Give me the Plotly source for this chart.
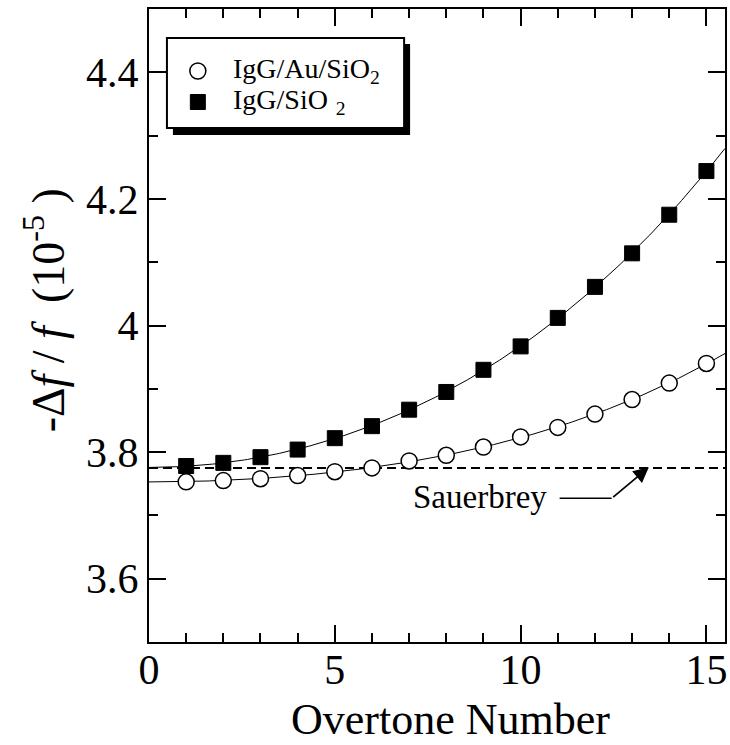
import numpy as np
import plotly.graph_objects as go

overtone = list(range(1, 16))
igg_au_sio2 = [3.753, 3.755, 3.758, 3.763, 3.769, 3.775, 3.786, 3.795, 3.808, 3.824,
               3.839, 3.860, 3.883, 3.909, 3.940]
igg_sio2 = [3.778, 3.783, 3.792, 3.804, 3.822, 3.841, 3.867, 3.895, 3.930, 3.967,
            4.012, 4.061, 4.114, 4.175, 4.244]
sauerbrey = 3.775
series_names = ["IgG/Au/SiO<sub>2</sub>", "IgG/SiO<sub>\u2009\u20092</sub>"]
x_title = "Overtone Number"
y_title = "-Δ<i>f</i>\u00a0/\u00a0<i>f</i>\u00a0\u00a0(10<sup>-5</sup>\u00a0)"
x_range = [0, 15.5]
y_range = [3.5, 4.5]
x_ticks = [0, 5, 10, 15]
y_ticks = [3.6, 3.8, 4.0, 4.2, 4.4]
y_tick_text = ["3.6", "3.8", "4", "4.2", "4.4"]

FONT = "Liberation Serif"
L, R, T, B = 149, 3, 9, 103
W, H = 730, 745
PW, PH = W - L - R, H - T - B


def px(xp):
    return (xp - L) / PW


def py(yp):
    return 1 - (yp - T) / PH


fig = go.Figure()

# smooth fit curves computed from the data
xf = np.linspace(x_range[0], x_range[1], 200)
for ys in (igg_au_sio2, igg_sio2):
    n = np.array(overtone, dtype=float)
    A = np.vstack([np.ones_like(n), n**2, n**4]).T
    coef, *_ = np.linalg.lstsq(A, np.array(ys), rcond=None)
    yf = coef[0] + coef[1] * xf**2 + coef[2] * xf**4
    fig.add_trace(go.Scatter(x=xf, y=yf, mode="lines", line=dict(color="black", width=1),
                             showlegend=False, hoverinfo="skip"))

# Sauerbrey dashed line
fig.add_trace(go.Scatter(x=x_range, y=[sauerbrey, sauerbrey], mode="lines",
                         line=dict(color="black", width=2, dash="9px,5px"),
                         showlegend=False, hoverinfo="skip"))

fig.add_trace(go.Scatter(x=overtone, y=igg_au_sio2, mode="markers", name=series_names[0],
                         showlegend=False,
                         marker=dict(symbol="circle", size=16, color="white",
                                     line=dict(color="black", width=1.5))))
fig.add_trace(go.Scatter(x=overtone, y=igg_sio2, mode="markers", name=series_names[1],
                         showlegend=False,
                         marker=dict(symbol="square", size=15, color="black",
                                     line=dict(color="black", width=1))))

# Sauerbrey label with kinked arrow
fig.add_annotation(x=7.05, y=3.729, xref="x", yref="y", text="Sauerbrey", showarrow=False,
                   xanchor="left", yanchor="middle", font=dict(family=FONT, size=33, color="black"))
fig.add_shape(type="line", x0=11.05, x1=12.45, y0=3.727, y1=3.727, xref="x", yref="y",
              line=dict(color="black", width=1.5))
fig.add_annotation(x=13.45, y=3.776, ax=12.45, ay=3.727, xref="x", yref="y", axref="x", ayref="y",
                   text="", showarrow=True, arrowhead=2, arrowsize=1.8, arrowwidth=1.7,
                   arrowcolor="black")

# legend box (drawn by hand for exact placement), with drop shadow
fig.add_shape(type="rect", xref="paper", yref="paper", x0=px(173), x1=px(411), y0=py(135), y1=py(44),
              fillcolor="black", line=dict(width=0))
fig.add_shape(type="rect", xref="paper", yref="paper", x0=px(167), x1=px(405), y0=py(128), y1=py(38),
              fillcolor="white", line=dict(color="black", width=2))
sym_x = px(198)
row_y = [py(71), py(102)]
fig.add_shape(type="circle", xref="paper", yref="paper", xsizemode="pixel", ysizemode="pixel",
              xanchor=sym_x, yanchor=row_y[0], x0=-8, x1=8, y0=-8, y1=8,
              fillcolor="white", line=dict(color="black", width=1.5))
fig.add_shape(type="rect", xref="paper", yref="paper", xsizemode="pixel", ysizemode="pixel",
              xanchor=sym_x, yanchor=row_y[1], x0=-7.5, x1=7.5, y0=-7.5, y1=7.5,
              fillcolor="black", line=dict(color="black", width=1))
for name, yy in zip(series_names, row_y):
    fig.add_annotation(x=px(231), y=yy, xref="paper", yref="paper", text=name, showarrow=False,
                       xanchor="left", yanchor="middle",
                       font=dict(family=FONT, size=28, color="black"))

# axis titles placed as in the reference
fig.add_annotation(x=px(452), y=py(719), xref="paper", yref="paper", text=x_title,
                   showarrow=False, xanchor="center", yanchor="middle",
                   font=dict(family=FONT, size=44, color="black"))
fig.add_annotation(x=px(44), y=py(310), xref="paper", yref="paper", text=y_title,
                   showarrow=False, xanchor="center", yanchor="middle", textangle=-90,
                   font=dict(family=FONT, size=46, color="black"))

axis_common = dict(showline=True, linecolor="black", linewidth=2, mirror="ticks",
                   ticks="inside", ticklen=17, tickwidth=2, tickcolor="black",
                   showgrid=False, zeroline=False,
                   tickfont=dict(family=FONT, size=42, color="black"))

fig.update_xaxes(range=x_range, tickvals=x_ticks, **axis_common, ticklabelstandoff=-10,
                 minor=dict(dtick=1, ticks="inside", ticklen=9, tickwidth=1.5, tickcolor="black",
                            showgrid=False))
fig.update_yaxes(range=y_range, tickvals=y_ticks, ticktext=y_tick_text, **axis_common,
                 minor=dict(dtick=0.1, ticks="inside", ticklen=9, tickwidth=1.5, tickcolor="black",
                            showgrid=False))

fig.update_layout(
    width=W, height=H,
    margin=dict(l=L, r=R, t=T, b=B),
    paper_bgcolor="white", plot_bgcolor="white",
    font=dict(family=FONT, color="black"),
    showlegend=False,
)

fig.write_html("out.html")
